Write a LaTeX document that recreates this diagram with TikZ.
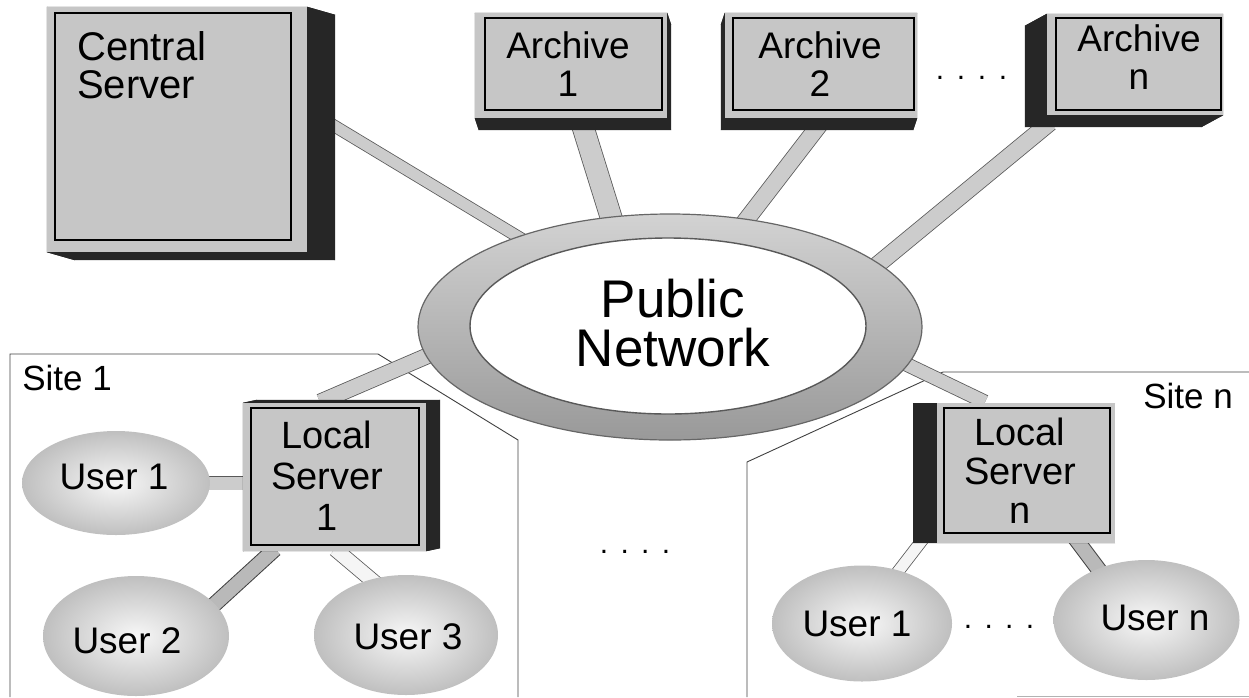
\documentclass[tikz,border=0pt]{standalone}
\usepackage{fontspec}
\setmainfont{Liberation Sans}
\usetikzlibrary{shapes.geometric,calc}
\pgfdeclarelayer{sitel}
\pgfdeclarelayer{tubel}
\pgfdeclarelayer{depthl}
\pgfsetlayers{sitel,tubel,depthl,main}
\newcommand\fsz[2]{\fontsize{#1}{#2}\selectfont}
\newcommand\mydepth[3]{%
  \fill[depthc] ([shift={(#2,#3)}]#1.north west) rectangle ([shift={(#2,#3)}]#1.south east);
  \fill[depthc] (#1.north west) -- (#1.north east) -- ([shift={(#2,#3)}]#1.north east) -- ([shift={(#2,#3)}]#1.north west) -- cycle;
  \fill[depthc] (#1.south west) -- (#1.south east) -- ([shift={(#2,#3)}]#1.south east) -- ([shift={(#2,#3)}]#1.south west) -- cycle;
  \fill[depthc] (#1.north west) -- (#1.south west) -- ([shift={(#2,#3)}]#1.south west) -- ([shift={(#2,#3)}]#1.north west) -- cycle;
  \fill[depthc] (#1.north east) -- (#1.south east) -- ([shift={(#2,#3)}]#1.south east) -- ([shift={(#2,#3)}]#1.north east) -- cycle;
}
\newcommand\myinner[5]{%
  \draw[innerc] ([shift={(#2,#3)}]#1.north west) rectangle ([shift={(-#4,-#5)}]#1.south east);
}
\tikzset{
  depthc/.style={fill=black!85},
  innerc/.style={draw=black, line width=2.2pt},
  box/.style={rectangle, fill=gray!45, inner sep=0pt, draw=none},
  txt/.style={inner sep=0pt, align=center},
  user/.style={ellipse, inner sep=0pt, inner color=gray!6, outer color=gray!50},
  tube/.style={draw=black!65, line width=0.8pt, double=gray!40, double distance=#1},
  ltube/.style={draw=black!65, line width=0.8pt, double=gray!8, double distance=#1},
  dtube/.style={draw=black!75, line width=1pt, double=gray!55, double distance=#1},
  siteline/.style={draw=black!75, line width=0.9pt},
  usertxt/.style={txt, font=\fsz{37}{40}},
  dotsty/.style={inner sep=0pt, font=\fsz{30}{30}},
}
\begin{document}
\begin{tikzpicture}[x=1pt,y=-1pt]
\useasboundingbox (0,0) rectangle (1249,697);

% ---------- network ring ----------
\node[ellipse, minimum width=504, minimum height=226, inner sep=0pt,
      top color=gray!35, bottom color=gray!80, draw=black!60, line width=1.2pt] (ring) at (670,327) {};
\node[ellipse, minimum width=396, minimum height=176, inner sep=0pt,
      fill=white, draw=black!65, line width=1.4pt] (hole) at (668,326) {};
\node[txt, font=\fsz{53}{49}] (pnt) at (673,323.5) {Public\\Network};

% ---------- boxes (front faces) ----------
\node[box, minimum width=260, minimum height=245] (cs) at (177,129.5) {};
\node[box, minimum width=192, minimum height=105] (a1) at (571,65.5) {};
\node[box, minimum width=192, minimum height=105] (a2) at (821,65.5) {};
\node[box, minimum width=176, minimum height=101] (an) at (1135,64.5) {};
\node[box, minimum width=183, minimum height=148] (ls1) at (334.5,477) {};
\node[box, minimum width=178, minimum height=140] (lsn) at (1026,473) {};

\myinner{cs}{8}{6}{16}{12}
\myinner{a1}{10}{5}{5}{8}
\myinner{a2}{8}{5}{3}{8}
\myinner{an}{9}{4}{2}{5}
\myinner{ls1}{8}{5}{7}{6}
\myinner{lsn}{7}{5}{5}{10}

\begin{pgfonlayer}{depthl}
  \mydepth{cs}{28}{8}
  \mydepth{a1}{4}{12}
  \mydepth{a2}{-4}{12}
  \mydepth{an}{-22}{12}
  \mydepth{ls1}{14}{-3}
  \mydepth{lsn}{-24}{0}
\end{pgfonlayer}

% ---------- box texts ----------
\node[txt, align=left, anchor=north west, font=\fsz{40}{38}] (cst) at (77,31) {Central\\Server};
\node[txt, font=\fsz{37}{38}] (a1t) at (568,64.5) {Archive\\1};
\node[txt, font=\fsz{37}{38}] (a2t) at (820,64.5) {Archive\\2};
\node[txt, font=\fsz{37}{38}] (ant) at (1139,57.5) {Archive\\n};
\node[txt, font=\fsz{38}{41}] (ls1t) at (327,476) {Local\\Server\\1};
\node[txt, font=\fsz{38}{39}] (lsnt) at (1020,470.5) {Local\\Server\\n};

% ---------- users ----------
\node[user, minimum width=188, minimum height=104] (u11) at (116,483) {};
\node[user, minimum width=186, minimum height=120] (u2) at (136,636) {};
\node[user, minimum width=184, minimum height=120] (u3) at (406,635) {};
\node[user, minimum width=180, minimum height=116] (un1) at (862,623.5) {};
\node[user, minimum width=186, minimum height=120] (unn) at (1146.5,620) {};
\node[usertxt] (u11t) at (114,477) {User 1};
\node[usertxt] (u2t) at (127,641) {User 2};
\node[usertxt] (u3t) at (408,637) {User 3};
\node[usertxt] (un1t) at (857,624) {User 1};
\node[usertxt] (unnt) at (1155,618) {User n};

% ---------- connectors ----------
\begin{pgfonlayer}{tubel}
  \draw[tube=11pt] ($(cs.center)+(130,-20)$) -- ($(ring.center)+(-130,-77)$);
  \draw[tube=21pt] ($(a1.center)+(9,52)$) -- ($(ring.center)+(-55,-97)$);
  \draw[tube=16pt] ($(a2.center)+(4,52)$) -- ($(ring.center)+(70,-99)$);
  \draw[tube=16pt] ($(an.center)+(-85,58)$) -- ($(ring.center)+(195,-52)$);
  \draw[tube=15pt] ($(ls1.center)+(-14.5,-75)$) -- ($(ring.center)+(-215,17)$);
  \draw[tube=13pt] ($(ring.center)+(215,27)$) -- ($(lsn.center)+(-41,-71)$);
  \draw[tube=13pt] ($(u11.center)+(74,0)$) -- ($(ls1.center)+(-84.5,6)$);
  \draw[dtube=14pt] ($(u2.center)+(69,-23)$) -- ($(ls1.center)+(-59.5,72)$);
  \draw[ltube=14pt] ($(ls1.center)+(0.5,72)$) -- ($(u3.center)+(-13,-37)$);
  \draw[ltube=11pt] ($(lsn.center)+(-96,57)$) -- ($(un1.center)+(33,-48)$);
  \draw[dtube=14pt] ($(lsn.center)+(49,65)$) -- ($(unn.center)+(-46,-48)$);
\end{pgfonlayer}

% ---------- sites ----------
\begin{pgfonlayer}{sitel}
  \draw[siteline] (10,697) -- (10,354) -- (378,354) -- (518,440) -- (518,697);
  \draw[siteline] (747,697) -- (747,462) -- (943,372) -- (1249,372);
  \draw[draw=black!30, line width=0.8pt] (1017,696) -- (1249,696);
\end{pgfonlayer}
\node[txt, font=\fsz{35}{40}] (s1t) at (67,378) {Site 1};
\node[txt, font=\fsz{35}{40}] (snt) at (1188,396) {Site n};

% ---------- ellipsis dots ----------
\node[dotsty] (dtop) at (971.5,78) {.\kern12.7pt.\kern12.7pt.\kern12.7pt.};
\node[dotsty] (dmid) at (635,552) {.\kern12.3pt.\kern12.3pt.\kern12.3pt.};
\node[dotsty] (dbot) at (999,627) {.\kern12.3pt.\kern12.3pt.\kern12.3pt.};
\end{tikzpicture}
\end{document}
